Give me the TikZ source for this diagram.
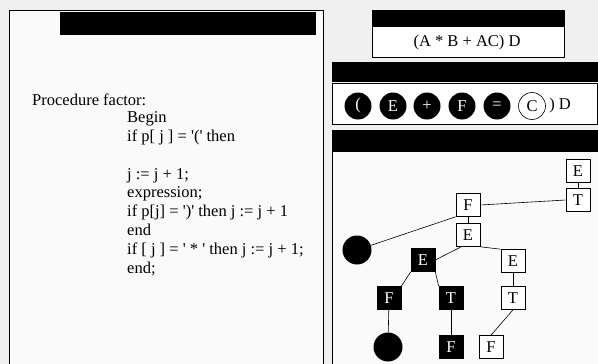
\documentclass[tikz,border=0pt]{standalone}
\usepackage{fontspec}
\setmainfont{Liberation Serif}
\usetikzlibrary{positioning}

\begin{document}
\begin{tikzpicture}[x=1pt, y=-1pt, font=\fontsize{16.5}{19}\selectfont,
  code/.style={anchor=base west, inner sep=0pt},
  wbox/.style={draw, semithick, fill=white, minimum width=24pt, minimum height=23pt, inner sep=0pt},
  bbox/.style={wbox, fill=black, text=white},
  bdot/.style={circle, fill=black, minimum size=29pt, inner sep=0pt},
  ball/.style={circle, fill=black, text=white, minimum size=27pt, inner sep=0pt},
  edge/.style={draw, semithick}]
  \useasboundingbox[fill=gray!12] (0,0) rectangle (598,364);

  % Left panel
  \fill[gray!4] (9,10) rectangle (323,364);
  \draw[semithick] (9,364) -- (9,10) -- (323,10) -- (323,364);
  \fill (60,12) rectangle (316,35);

  \node[code] (proc) at (32,105) {Procedure factor:};
  \foreach \y/\txt in {122/Begin, 141/{if p[ j ] = \textquotesingle(\textquotesingle{} then},
                       179/{j := j + 1;}, 197/{expression;},
                       216/{if p[j] = \textquotesingle)\textquotesingle{} then j := j + 1}, 235/end,
                       254/{if [ j ] = \textquotesingle{} * \textquotesingle{} then j := j + 1;},
                       273/{end;}} {
    \node[code] at (127,\y) {\txt};
  }

  % Input string
  \draw[semithick, fill=white] (372,10) rectangle (564,57);
  \fill (372,10) rectangle (564,27);
  \node (input) at (467,43) {(A * B + AC) D};

  % Scanned symbols
  \fill (332,62) rectangle (598,82);
  \draw[semithick, fill=white] (332,83) rectangle (597,124);
  \foreach \x/\sym [count=\i] in {358/(, 393/E, 427/+, 462/F, 497/=} {
    \node[ball] (s\i) at (\x,106) {\sym};
  }
  \node[circle, draw, semithick, fill=white, minimum size=27pt, inner sep=0pt] (s6) at (532,106) {C};
  \node[right=0pt of s6] (rest) {) D};

  % Parse tree
  \fill (332,130) rectangle (598,152);
  \fill[gray!4] (332,152) rectangle (598,364);
  \draw[semithick] (332,364) -- (332,152);

  \node[wbox] (e0) at (578,171) {E};
  \node[wbox] (t0) at (578,200) {T};
  \node[wbox] (f1) at (468,205) {F};
  \node[wbox] (e1) at (468,235) {E};
  \node[bdot] (c1) at (357,250) {};
  \node[bbox] (e2) at (423,260) {E};
  \node[wbox] (e3) at (513,261) {E};
  \node[bbox] (f2) at (389,298) {F};
  \node[bbox] (t2) at (451,298) {T};
  \node[wbox] (t3) at (513,298) {T};
  \node[bdot] (c2) at (388,347) {};
  \node[bbox] (f4) at (451,347) {F};
  \node[wbox] (f5) at (491,347) {F};

  \path[edge] (e0) -- (t0);
  \path[edge] (t0.west) -- (f1.east);
  \path[edge] (f1) -- (e1);
  \path[edge] (f1.south west) -- (c1);
  \path[edge] (e1.240) -- (e2.east);
  \path[edge] (e1.south east) -- (e3.north west);
  \path[edge] (e2.south west) -- (f2.north east);
  \path[edge] (e2.south east) -- (t2.north west);
  \path[edge] (e3) -- (t3);
  \path[edge] (f2) -- (c2);
  \path[edge] (t2) -- (f4);
  \path[edge] (t3.south) -- (f5.north);
\end{tikzpicture}
\end{document}
